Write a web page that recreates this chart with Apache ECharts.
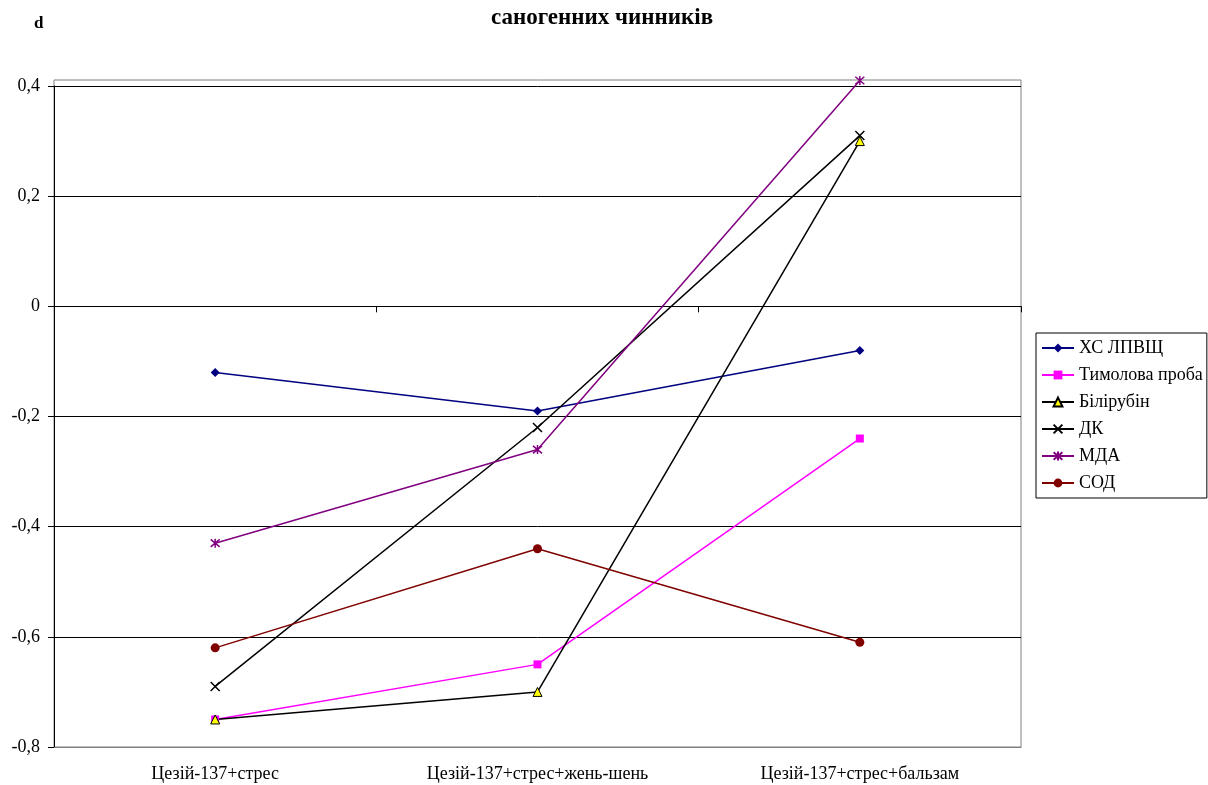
<!DOCTYPE html>
<html>
<head>
<meta charset="utf-8">
<script src="https://cdn.jsdelivr.net/npm/echarts@6/dist/echarts.min.js"></script>
<style>
  html, body { margin: 0; padding: 0; background: #fff; }
  #chart { width: 1208px; height: 785px; }
</style>
</head>
<body>
<div id="chart"></div>
<script>
// Categories (experimental groups)
const categories = ['Цезій-137+стрес', 'Цезій-137+стрес+жень-шень', 'Цезій-137+стрес+бальзам'];

// Effect size d per indicator
const hsLpvsch   = [-0.12, -0.19, -0.08];   // ХС ЛПВЩ
const tymol      = [-0.75, -0.65, -0.24];   // Тимолова проба
const bilirubin  = [-0.75, -0.70, 0.30];    // Білірубін
const dk         = [-0.69, -0.22, 0.31];    // ДК
const mda        = [-0.43, -0.26, 0.41];    // МДА
const sod        = [-0.62, -0.44, -0.61];   // СОД

const yTicks = [-0.8, -0.6, -0.4, -0.2, 0, 0.2, 0.4];

const serif = '"Liberation Serif", "Times New Roman", serif';
const fmt = v => String(Math.round(v * 10) / 10).replace('.', ',');

const crossPath = 'path://M0,0L10,10M10,0L0,10';
const starPath = 'path://M0,0L10,10M10,0L0,10M5,-1L5,11';

function lineSeries(name, data, color, symbol, size, itemStyle) {
  return {
    name, type: 'line', data,
    xAxisIndex: 0,
    symbol, symbolSize: size,
    showAllSymbol: true,
    clip: false,
    lineStyle: { color, width: 1.5 },
    itemStyle: Object.assign({ color }, itemStyle || {}),
    emphasis: { disabled: true },
    animation: false
  };
}

const chart = echarts.init(document.getElementById('chart'), null, { renderer: 'canvas' });

chart.setOption({
  backgroundColor: '#fff',
  animation: false,
  title: [
    {
      text: 'саногенних чинників',
      left: 597, top: 2, textAlign: 'center',
      textStyle: { fontFamily: serif, fontSize: 23, fontWeight: 'bold', color: '#000' }
    },
    {
      text: 'd',
      left: 29, top: 10,
      textStyle: { fontFamily: serif, fontSize: 17, fontWeight: 'bold', color: '#000' }
    }
  ],
  graphic: [{
    type: 'rect',
    shape: { x: 54, y: 80, width: 967, height: 667 },
    style: { fill: 'none', stroke: '#808080', lineWidth: 1 },
    z: 0, silent: true
  }],
  legend: {
    orient: 'vertical',
    left: 1036, top: 333,
    padding: [6, 4, 6, 5],
    itemGap: 9,
    itemWidth: 32, itemHeight: 11,
    borderColor: '#000', borderWidth: 1,
    backgroundColor: '#fff',
    textStyle: { fontFamily: serif, fontSize: 18, color: '#000', lineHeight: 18 },
    data: ['ХС ЛПВЩ', 'Тимолова проба', 'Білірубін', 'ДК', 'МДА', 'СОД']
  },
  grid: {
    left: 54, right: 187, top: 86, bottom: 38,
    containLabel: false,
    show: false
  },
  xAxis: [
    {
      type: 'category',
      data: categories,
      position: 'bottom',
      boundaryGap: true,
      axisLine: { onZero: false, lineStyle: { color: '#808080', width: 1 } },
      axisTick: { show: false },
      axisLabel: { fontFamily: serif, fontSize: 18, color: '#000', margin: 18 },
      splitLine: { show: false }
    },
    {
      type: 'category',
      data: categories,
      position: 'top',
      boundaryGap: true,
      axisLine: { onZero: true, lineStyle: { color: '#000', width: 1 } },
      axisTick: { show: true, inside: true, length: 6, lineStyle: { color: '#000' } },
      axisLabel: { show: false },
      splitLine: { show: false }
    }
  ],
  yAxis: {
    type: 'value',
    min: yTicks[0],
    max: yTicks[yTicks.length - 1],
    interval: 0.2,
    axisLine: { show: true, onZero: false, lineStyle: { color: '#000', width: 1 } },
    axisTick: { show: true, length: 6, lineStyle: { color: '#000' } },
    axisLabel: {
      fontFamily: serif, fontSize: 18, color: '#000', margin: 14,
      formatter: fmt
    },
    splitLine: { show: true, lineStyle: { color: '#000', width: 1 } }
  },
  series: [
    lineSeries('ХС ЛПВЩ', hsLpvsch, '#000080', 'diamond', 9),
    lineSeries('Тимолова проба', tymol, '#FF00FF', 'rect', 8),
    lineSeries('Білірубін', bilirubin, '#000000', 'triangle', 9,
      { color: '#FFFF00', borderColor: '#000', borderWidth: 1 }),
    lineSeries('ДК', dk, '#000000', crossPath, 9,
      { color: 'none', borderColor: '#000', borderWidth: 1.5 }),
    lineSeries('МДА', mda, '#800080', starPath, 9,
      { color: 'none', borderColor: '#800080', borderWidth: 1.5 }),
    lineSeries('СОД', sod, '#800000', 'circle', 9)
  ]
});
</script>
</body>
</html>
